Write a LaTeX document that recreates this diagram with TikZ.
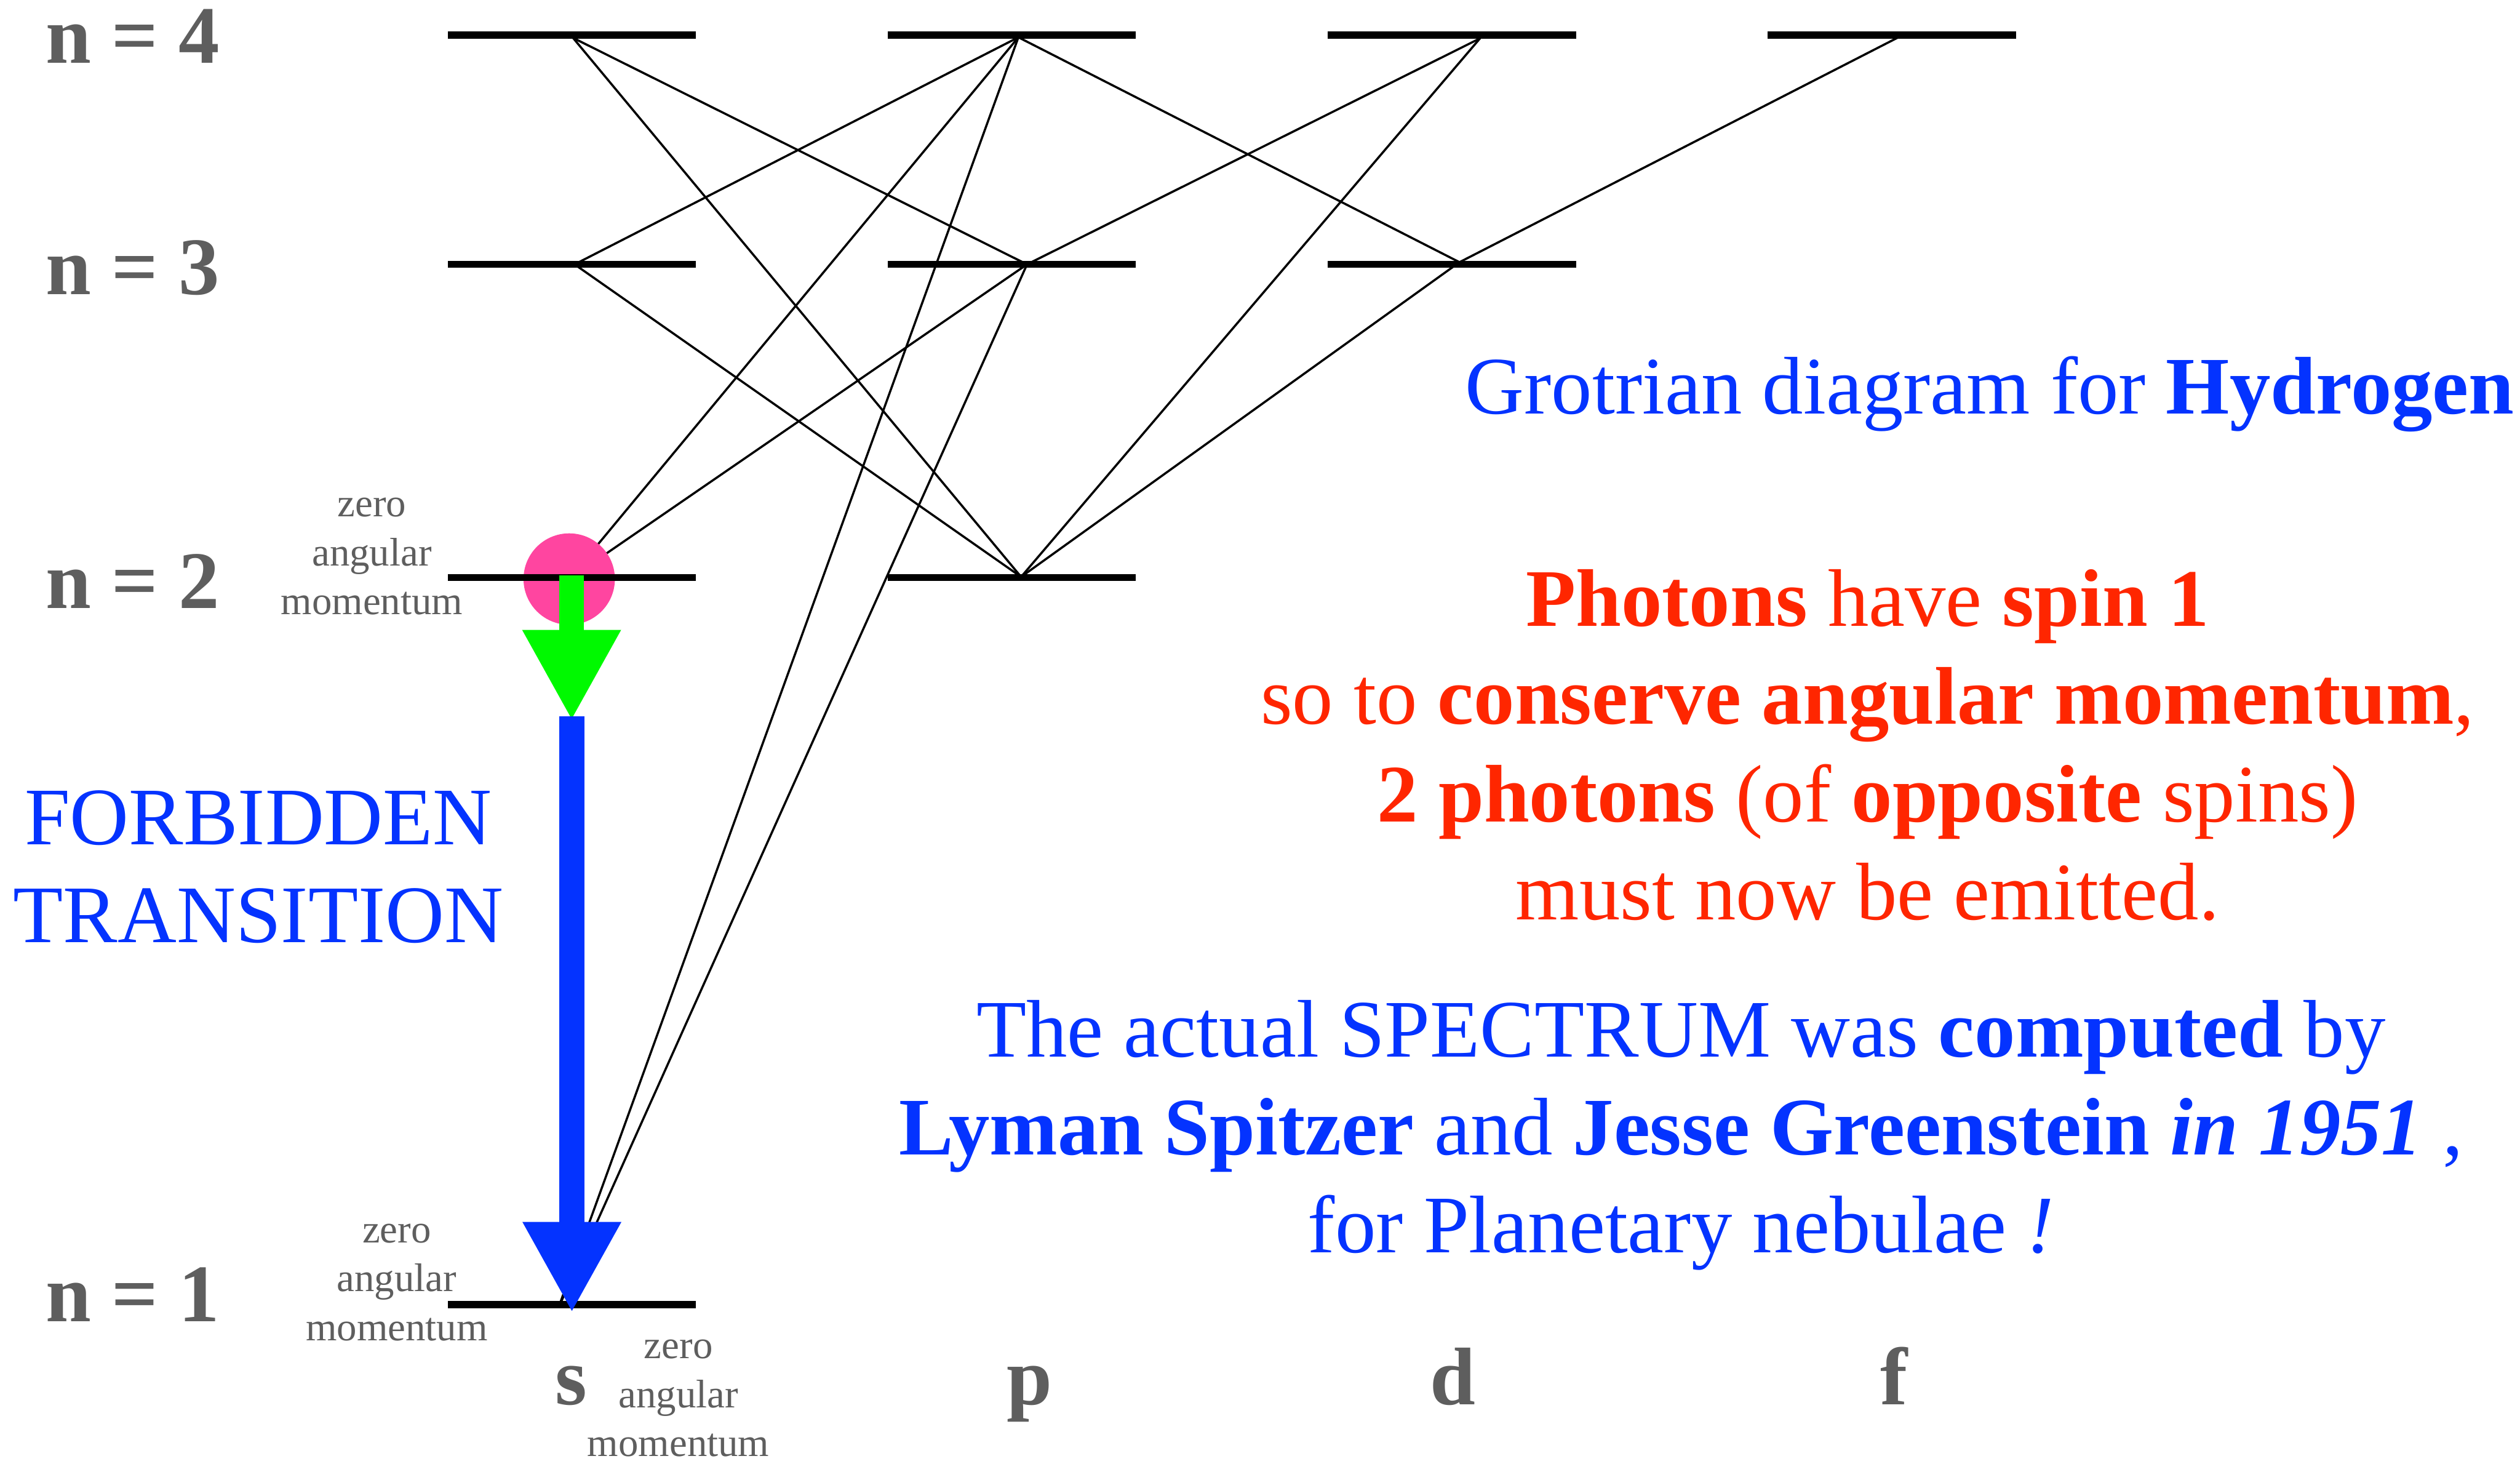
\documentclass[tikz,border=0pt]{standalone}
\usepackage{fontspec}
\setmainfont{Liberation Serif}
\usepackage{tikz}
\usetikzlibrary{arrows.meta}
\definecolor{LabelGray}{HTML}{5E5E5E}
\definecolor{TextBlue}{HTML}{0433FF}
\definecolor{TextRed}{HTML}{FF2600}
\definecolor{ArrowGreen}{HTML}{00F900}
\definecolor{SpotPink}{HTML}{FF45A0}

\begin{document}
\begin{tikzpicture}[
  bar/.style={draw=none, fill=black, minimum width=4.59cm, minimum height=0.13cm, inner sep=0pt},
  transline/.style={line width=0.04cm},
  nlabel/.style={anchor=base west, text=LabelGray, font=\fontsize{43}{51}\selectfont\bfseries},
  orb/.style={anchor=base, text=LabelGray, font=\fontsize{43}{51}\selectfont\bfseries},
  zeroam/.style={anchor=base, align=center, text=LabelGray, font=\fontsize{21}{25.6}\selectfont},
  bigtext/.style={anchor=base, align=center, font=\fontsize{43}{51.5}\selectfont}
]
  \path[use as bounding box, fill=white] (0,0) rectangle (46.62,27.07);

  % vertices where the transitions meet the levels
  \coordinate (s4) at (10.60,26.37);
  \coordinate (s3) at (10.63,22.18);
  \coordinate (s2) at (10.53,16.36);
  \coordinate (s1) at (10.33,2.88);
  \coordinate (p4) at (18.84,26.38);
  \coordinate (p3) at (19.00,22.18);
  \coordinate (p2) at (18.89,16.40);
  \coordinate (d4) at (27.38,26.36);
  \coordinate (d3) at (27.00,22.22);
  \coordinate (f4) at (35.10,26.37);

  % allowed transitions
  \foreach \a/\b in {s4/p3, s4/p2, s3/p4, s3/p2, s2/p4, s2/p3, p4/s1, p3/s1,
                     p4/d3, d4/p3, d4/p2, d3/p2, f4/d3}
    \draw[transline] (\a) -- (\b);

  % excited s electron
  \fill[SpotPink] (s2) circle (0.845cm);

  % energy levels
  \node[bar] (bar-s4) at (10.58,26.42) {};
  \node[bar] (bar-s3) at (10.58,22.18) {};
  \node[bar] (bar-s2) at (10.58,16.39) {};
  \node[bar] (bar-s1) at (10.58,2.94) {};
  \node[bar] (bar-p4) at (18.715,26.42) {};
  \node[bar] (bar-p3) at (18.715,22.18) {};
  \node[bar] (bar-p2) at (18.715,16.39) {};
  \node[bar] (bar-d4) at (26.86,26.42) {};
  \node[bar] (bar-d3) at (26.86,22.18) {};
  \node[bar] (bar-f4) at (35.00,26.42) {};

  % forbidden 2s -> 1s
  \coordinate (gtop) at (10.575,16.43);
  \coordinate (gtip) at (10.575,13.74);
  \coordinate (btop) at (10.58,13.82);
  \coordinate (btip) at (10.58,2.79);
  \draw[line width=0.45cm, ArrowGreen, -{Triangle[width=1.7cm,length=1.68cm]}] (gtop) -- (gtip);
  \draw[line width=0.46cm, TextBlue, -{Triangle[width=1.7cm,length=1.68cm]}] (btop) -- (btip);

  % principal quantum numbers
  \node[nlabel] (n4) at (0.72,25.90) {n = 4};
  \node[nlabel] (n3) at (0.72,21.62) {n = 3};
  \node[nlabel] (n2) at (0.72,15.82) {n = 2};
  \node[nlabel] (n1) at (0.72,2.63) {n = 1};

  % orbital labels
  \node[orb] (lab-s) at (10.57,1.09) {s};
  \node[orb] (lab-p) at (19.05,1.09) {p};
  \node[orb] (lab-d) at (26.88,1.09) {d};
  \node[orb] (lab-f) at (35.04,1.09) {f};

  \node[zeroam] (zam2) at (6.88,15.71) {zero\\angular\\momentum};
  \node[zeroam] (zam1) at (7.34,2.28) {zero\\angular\\momentum};
  \node[zeroam] (zams) at (12.55,0.14) {zero\\angular\\momentum};

  \node[bigtext, text=TextBlue] (forbid) at (4.78,9.64) {FORBIDDEN\\TRANSITION};

  \node[bigtext, text=TextBlue] (title) at (36.81,19.42) {Grotrian diagram for \textbf{Hydrogen}};

  \node[bigtext, text=TextRed] (spin) at (34.55,10.06)
    {\textbf{Photons} have \textbf{spin 1}\\
     so to \textbf{conserve angular momentum},\\
     \textbf{2 photons} (of \textbf{opposite} spins)\\
     must now be emitted.};

  \node[bigtext, text=TextBlue] (history) at (31.10,3.90)
    {The actual SPECTRUM was \textbf{computed} by\\
     \textbf{Lyman Spitzer} and \textbf{Jesse Greenstein \textit{in 1951}} ,\\
     for Planetary nebulae \textit{!}};
\end{tikzpicture}
\end{document}
